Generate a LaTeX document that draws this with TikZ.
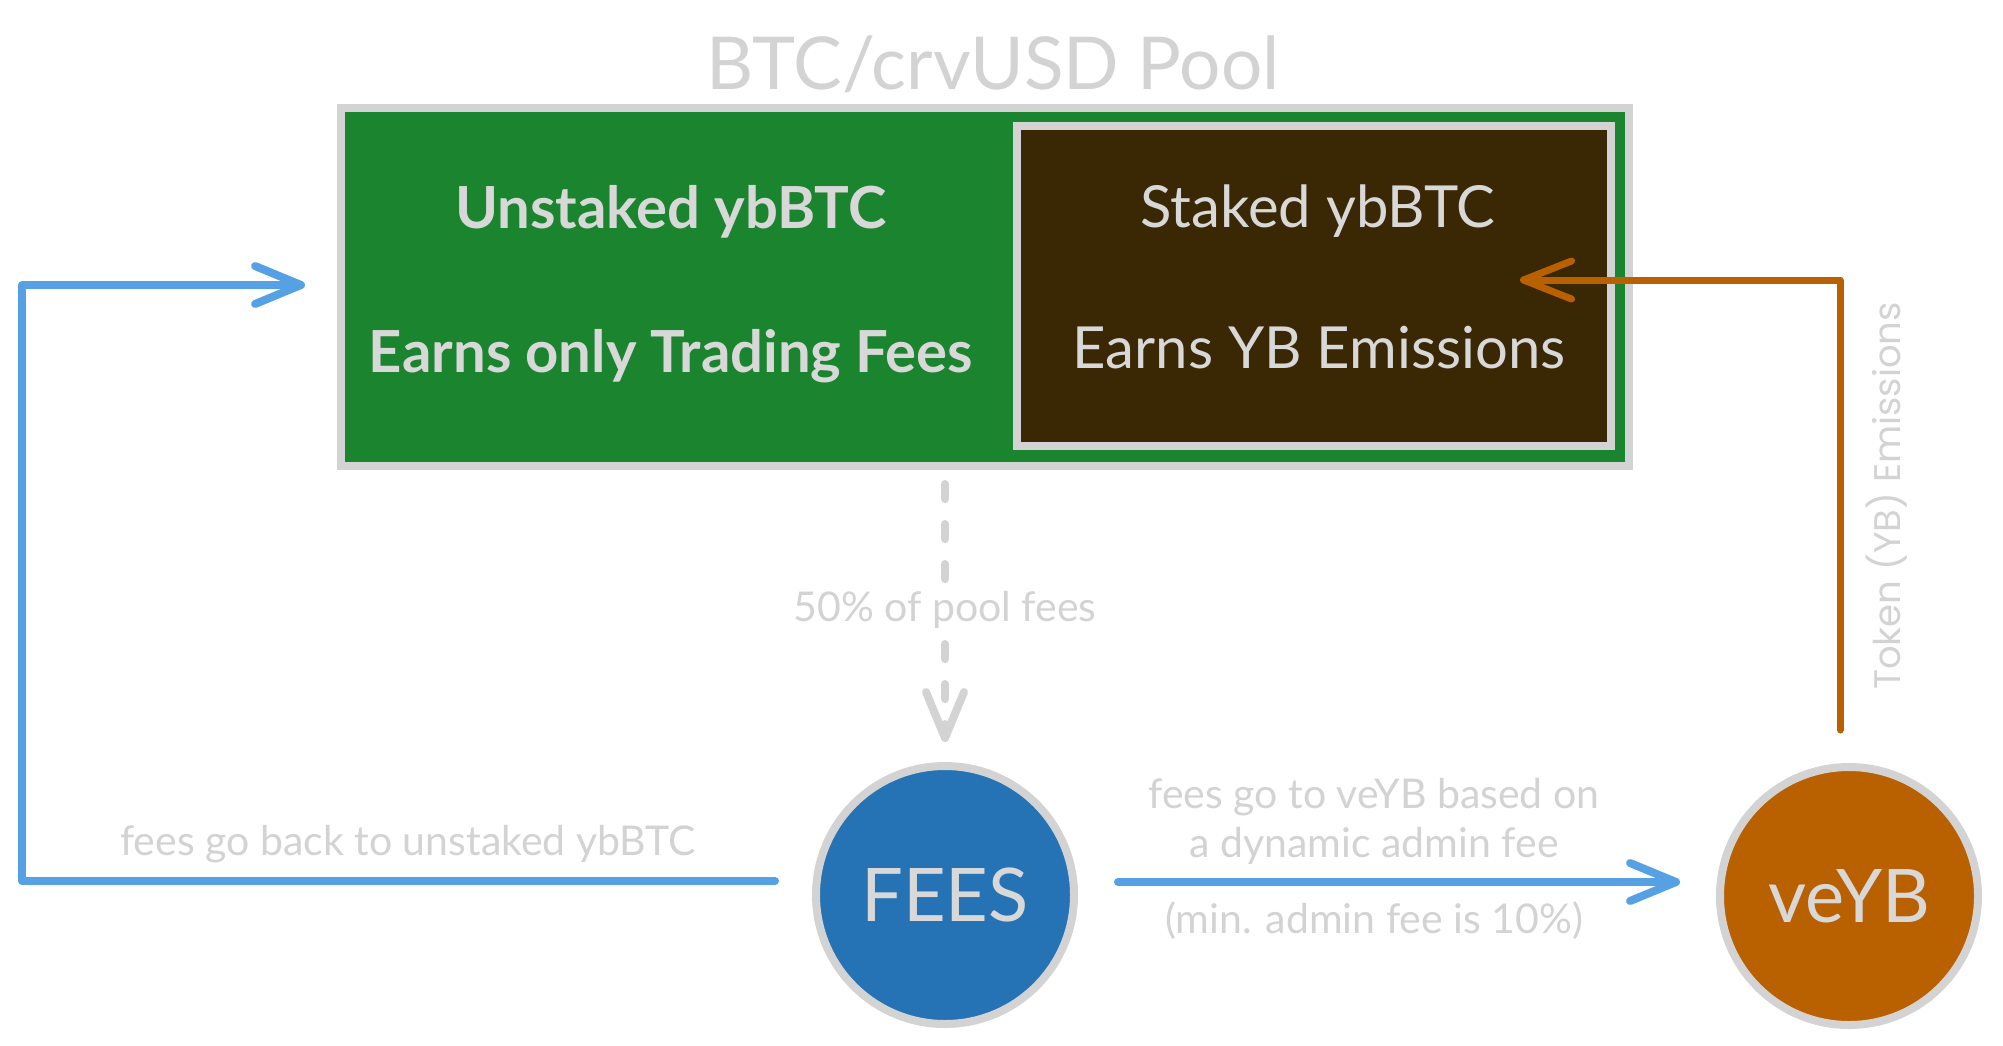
\documentclass[tikz,border=0pt]{standalone}
\usepackage{fontspec}
\setmainfont{Lato}
\newfontfamily\tokfont{Poppins}
\usetikzlibrary{arrows.meta}
\definecolor{lgray}{HTML}{D3D3D3}
\definecolor{tgray}{HTML}{D8D8D8}
\definecolor{pgreen}{HTML}{1A842E}
\definecolor{pbrown}{HTML}{3A2805}
\definecolor{fblue}{HTML}{2573B4}
\definecolor{lblue}{HTML}{56A0E4}
\definecolor{porange}{HTML}{B96000}
\begin{document}
\begin{tikzpicture}[x=1pt,y=-1pt,
  lbl/.style={text=lgray, inner sep=0pt},
  intext/.style={text=tgray, inner sep=0pt, anchor=base},
  box/.style={draw=lgray, line width=8pt, inner sep=0pt},
  bubble/.style={circle, draw=lgray, line width=8pt, minimum size=258pt, inner sep=0pt, text=tgray, font=\fontsize{74}{76}\selectfont},
  conn/.style={line width=8pt, line cap=round, line join=round},
  barb/.style={-{Straight Barb[length=46pt,width=38pt,round]}},
  lblfont/.style={font=\fontsize{41}{44}\selectfont}
]
\useasboundingbox (0,0) rectangle (2003,1045);
\fill[white] (0,0) rectangle (2003,1045);

% title
\node[lbl, anchor=base, font=\fontsize{73}{80}\selectfont] (title) at (993,89) {BTC/crvUSD Pool};

% pool boxes
\node[box, fill=pgreen, minimum width=1288pt, minimum height=358pt] (pool) at (985,287) {};
\node[box, fill=pbrown, minimum width=594pt, minimum height=320pt] (staked) at (1314,286) {};

\node[intext, font=\bfseries\fontsize{58}{60}\selectfont] (unst) at (671,228) {Unstaked ybBTC};
\node[intext, font=\bfseries\fontsize{58}{60}\selectfont] (unst2) at (671,372) {Earns only Trading Fees};
\node[intext, font=\fontsize{58}{60}\selectfont] (stk) at (1318,227) {Staked ybBTC};
\node[intext, font=\fontsize{58}{60}\selectfont] (stk2) at (1319,368) {Earns YB Emissions};

% circles
\node[bubble, fill=fblue] (fees) at (945,895) {FEES};
\node[bubble, fill=porange] (veyb) at (1849,896) {veYB};

% connector coordinates
\coordinate (poolOut) at (945,484);
\coordinate (feesIn) at (945,742);
\coordinate (feesL) at (775,881);
\coordinate (cBL) at (22,881);
\coordinate (cTL) at (22,285);
\coordinate (unstIn) at (305,285);
\coordinate (feesR) at (1118,882);
\coordinate (veybIn) at (1680,882);
\coordinate (veybOut) at (1840,730);
\coordinate (cTR) at (1840,280);
\coordinate (stkIn) at (1520,280);

% dashed gray: pool -> fees
\draw[conn, lgray, dash pattern=on 15pt off 25pt, barb] (poolOut) -- (feesIn);
\node[lbl, lblfont, fill=white, inner sep=7pt] (pct) at (945,610) {50\% of pool fees};

% blue back to unstaked
\draw[conn, lblue, barb] (feesL) -- (cBL) -- (cTL) -- (unstIn);
\node[lbl, lblfont, anchor=base] (backlbl) at (408,855) {fees go back to unstaked ybBTC};

% blue fees -> veYB
\draw[conn, lblue, barb] (feesR) -- (veybIn);
\node[lbl, lblfont, anchor=base] (tv1) at (1374,808) {fees go to veYB based on};
\node[lbl, lblfont, anchor=base] (tv2) at (1374,857) {a dynamic admin fee};
\node[lbl, lblfont, anchor=base] (tv3) at (1374,933) {(min. admin fee is 10\%)};

% orange emissions
\draw[conn, porange, line width=7pt, -{Straight Barb[length=48pt,width=38pt,round]}] (veybOut) -- (cTR) -- (stkIn);
\node[lbl, anchor=base, rotate=90, font=\tokfont\fontsize{37}{40}\selectfont] (toklbl) at (1900,496) {Token (YB) Emissions};
\end{tikzpicture}
\end{document}
